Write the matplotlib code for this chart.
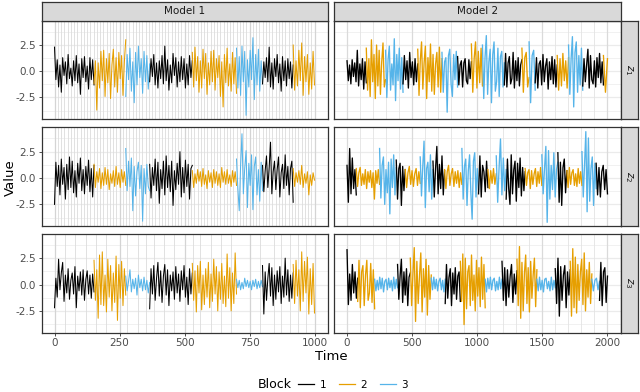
import numpy as np
import matplotlib.pyplot as plt
from matplotlib.lines import Line2D

block_colors = {1: "#000000", 2: "#E69F00", 3: "#56B4E9"}

# Model 1: block layout shared by z1, z2, z3
m1_bounds = [0, 152, 274, 366, 530, 700, 800, 918, 1000]
m1_blocks = [1, 2, 3, 1, 2, 3, 1, 2]

m1_z1 = [
    [2.3, -0.8, 1.1, -1.5, 0.6, -2.0, 1.3, -0.4, 0.9, -1.2, 1.6, -0.7, 0.3, -1.4, 1.0,
     -0.9, 1.5, -1.1, 0.7, -2.2, 1.2, -0.6, 1.4, -1.0, 0.5, -1.7, 1.3, -0.8, 1.1, -1.3],
    [-1.2, 1.0, -3.7, 0.8, -1.6, 1.9, -0.9, 2.0, -2.4, 1.2, -1.1, 1.7, -2.6, 0.6, 2.1,
     -1.5, 1.3, -2.0, 1.8, -0.7, 1.5, -2.3, 0.9, 3.0],
    [-2.4, 1.6, -0.8, 2.2, -1.9, 0.9, -3.0, 1.8, -1.3, 2.4, -0.6, 1.2, -2.1, 1.9, -1.0,
     1.5, -1.7, 0.7],
    [-1.0, 1.2, -0.5, 1.6, -1.3, 0.8, -1.6, 1.0, -0.7, 1.5, -1.2, 2.4, -0.9, 1.1, -1.8,
     0.6, -1.1, 1.7, -0.4, 1.3, -1.5, 0.9, -1.0, 1.4, -0.8, 1.2, -1.6, 0.7, -1.3, 1.5, -0.6, 1.0],
    [1.8, -1.5, 2.3, -0.9, 1.4, -2.0, 1.0, -1.6, 2.1, -0.7, 1.7, -2.2, 0.8, -1.3, 1.9,
     -1.0, 2.0, -1.8, 1.2, -0.6, 1.5, -2.4, 0.9, -3.4, 1.6, -1.1, 2.2, -1.4, 0.7, -1.9,
     1.8, -1.2, 1.3, -2.1],
    [2.2, -1.6, 1.4, -2.3, 2.4, -1.0, 1.9, -4.2, 1.1, -1.5, 2.0, -0.8, 3.2, -2.7, 1.6,
     -1.3, 2.1, -1.9, 1.0, -1.2],
    [-1.2, 0.9, -0.6, 1.3, -1.0, 2.3, -1.5, 0.8, -1.7, 1.2, -0.5, 1.6, -1.1, 0.7, -1.9,
     1.4, -0.9, 1.0, -1.4, 1.2, -0.7, 0.9, -1.6, 0.6],
    [2.5, -1.8, 1.0, -1.4, 2.0, -0.9, 2.7, -2.3, 1.4, -1.0, 1.6, -2.2, 0.8, -1.7, 1.9, -1.3],
]
m1_z2 = [
    [-2.5, 1.5, -0.8, 1.2, -1.6, 1.8, -0.6, 1.0, -2.0, 1.3, -1.1, 2.0, -0.9, 1.6, -1.4,
     0.7, -1.8, 1.4, -0.5, 1.9, -1.2, 0.8, -1.5, 1.1, -0.7, 1.7, -1.3, 0.9, -1.8, 1.2],
    [1.3, -0.9, 0.6, -0.4, 0.9, -1.0, 0.5, -0.7, 1.0, -0.6, 0.8, -1.1, 0.4, -0.5, 0.7,
     -0.8, 1.1, -0.6, 0.5, -0.9, 0.8, -0.4, 0.6, -0.7],
    [2.8, -1.2, 1.6, -0.8, 1.9, -3.1, 1.1, -1.7, 0.6, 1.5, -1.0, 1.2, -4.1, 0.9, -1.5,
     1.3, -0.8, -1.2],
    [1.3, -1.9, 1.0, -0.7, 1.8, -1.2, 1.5, -2.4, 0.8, -1.0, 1.6, -1.6, 2.1, -0.9, 1.2,
     -1.3, 1.6, -2.6, 0.7, -1.1, 1.4, -0.6, 2.5, -1.8, 1.0, -1.4, 1.7, -0.8, 1.3, -2.0, 0.9, 1.2],
    [0.7, -0.9, 0.4, -0.5, 0.8, -0.3, 0.6, -0.8, 0.9, -0.6, 0.3, -1.0, 0.7, -0.4, 0.5,
     -0.9, 0.8, -0.5, 0.6, -0.7, 0.4, -0.9, 1.0, -0.4, 0.6, -0.6, 0.8, -0.5, 0.3, -0.8,
     0.7, -0.4, 0.6, -0.7],
    [1.8, -1.0, -3.1, 1.2, 4.2, -1.5, 0.9, 2.6, -2.8, 1.4, -0.7, 2.2, -3.0, 1.1, 2.0,
     -1.6, 0.8, -2.2, 1.5, -1.2],
    [1.2, -1.3, 0.7, 2.1, -0.9, 1.0, 3.4, -1.5, 0.6, 1.6, -1.1, 0.8, 2.0, -1.8, 0.5,
     1.3, -1.0, 2.2, -0.7, 1.1, -1.6, 0.9, 1.6, -2.3],
    [0.9, -0.8, 0.5, -0.4, 0.7, -0.6, 1.2, -0.9, 0.4, -0.5, 0.6, -1.6, 0.3, -0.7, 0.5, -0.2],
]
m1_z3 = [
    [-2.2, 0.6, -1.2, 2.4, -0.5, 1.1, 2.1, -1.6, 0.9, -0.8, 1.5, -1.4, 0.4, 1.1, -0.9,
     1.7, -2.2, 0.8, -0.6, 1.2, -1.0, 1.4, -1.5, 0.5, 1.3, -0.9, 0.9, -1.3, 1.0, -0.7],
    [2.3, -1.5, 1.4, -3.2, 2.8, -1.9, 3.1, -2.0, 0.9, -2.6, 2.4, -1.2, 1.8, -2.5, 1.1,
     -1.7, 2.7, -3.4, 1.9, -1.3, 2.2, -2.0, 1.5, -1.0],
    [0.8, -0.6, 0.3, 1.4, -0.7, 0.5, -0.4, 0.6, -1.0, 0.9, -0.3, 0.5, -0.6, 0.7, -0.5,
     0.4, -0.8, 0.2],
    [-2.3, 1.5, -0.9, 1.8, -1.5, 0.6, 2.1, -1.1, 1.3, -1.7, 0.8, 1.9, -1.0, 1.4, -2.0,
     0.9, -0.6, 1.2, -1.4, 1.7, -0.8, 1.0, -1.6, 1.3, -0.5, 1.8, -1.2, 0.7, -1.9, 1.5, -0.9, 1.1],
    [2.0, -1.5, 1.3, -2.6, 1.8, -0.8, 2.2, -2.4, 0.9, -1.9, 1.5, -1.2, 2.1, -2.2, 1.0,
     -1.6, 2.4, -0.9, 1.7, -2.5, 1.2, -1.4, 2.0, -1.8, 0.8, -2.1, 2.9, -1.3, 1.6, -2.5,
     1.1, -1.8, 3.0, -0.9],
    [0.5, -0.3, 0.4, -0.5, 0.2, -0.4, 0.6, -0.2, 0.4, -0.3, 0.3, -0.5, 0.4, -0.2, 0.5,
     -0.4, 0.3, -0.3, 0.4, -0.2],
    [1.8, -2.8, 1.2, -1.5, 0.6, 2.0, -1.1, 1.6, -2.0, 0.9, -1.4, 1.3, -0.7, 1.7, -1.8,
     0.8, -1.2, 2.5, -1.0, 1.4, -1.6, 0.9, -1.3, 1.1],
    [1.9, -1.8, 2.3, -1.1, 1.4, -2.5, 3.1, -1.6, 2.2, -0.8, 2.6, -2.8, 1.5, -1.9, 2.0, -2.7],
]

# Model 2: each series has its own block layout
m2_z1_bounds = [0, 148, 296, 430, 543, 729, 849, 955, 1040, 1208, 1343, 1398, 1445,
                1614, 1701, 1810, 1969, 2000]
m2_z1_blocks = [1, 2, 3, 1, 2, 3, 1, 2, 3, 1, 2, 3, 1, 2, 3, 1, 2]
m2_z1 = [
    [1.0, -0.9, 0.6, -1.2, 1.1, -0.5, 0.8, -1.0, 2.0, -1.4, 0.7, -0.8, 1.2, -1.7, 0.9, -1.1],
    [2.2, -1.8, 1.2, -2.4, 3.0, -1.0, 1.6, -2.6, 2.5, -1.4, 2.0, -2.2, 0.9, 2.7, -1.5, -0.8],
    [2.0, -2.5, 1.1, 2.4, -1.8, 0.7, -1.3, 3.1, -2.8, 1.6, -0.9, 2.2, -1.7, 1.3, -2.0],
    [-1.2, 1.5, -0.8, 1.0, -1.6, 1.8, -0.6, 0.9, -1.3, 1.2, -1.0, 0.7],
    [2.1, -2.3, 1.0, 2.8, -1.7, 0.8, 2.4, -2.6, 1.3, -1.0, 2.6, -1.9, 1.6, -2.2, 0.7,
     1.8, -1.5, 2.3, -2.0, 1.2],
    [1.8, -2.0, 0.9, 1.3, -3.9, 1.5, 2.1, -1.2, -2.4, 1.6, -0.8, 1.9, -1.5],
    [1.4, -1.3, 0.6, 1.0, -1.5, 0.8, 1.2, -0.9, -1.2, 1.1, -0.7, 0.9],
    [2.6, -2.0, 1.2, 2.8, -1.6, 1.9, -1.1, 2.2, -1.4],
    [2.5, -2.6, 1.3, 3.4, -2.2, 0.9, 2.1, -3.0, 1.6, 2.8, -1.9, -1.0, 2.2, -2.4, 1.4,
     1.9, -1.5, 0.8],
    [-1.3, 1.7, -1.5, 0.8, 1.4, -1.2, -0.7, 1.8, -1.6, 1.0, -0.9, 1.3, -1.4, 0.6, 1.1],
    [2.2, -2.0, 1.3, 1.8, -1.5, -0.6],
    [2.8, -3.0, 1.5, 2.0, -1.8],
    [-1.1, 1.3, -1.6, 0.7, 1.0, -1.3, 1.6, -1.0, 0.5, 1.2, -1.7, 0.9, -0.8, 1.4, -1.2,
     1.1, -1.5, 0.6],
    [1.5, -1.8, 1.2, -1.4, 1.7, -0.9, 1.0, -1.6, 1.3],
    [2.5, -2.2, 1.2, 3.3, -3.4, 1.8, 2.8, -2.0, 1.5, -1.3, 2.2, -1.8],
    [-1.4, 1.2, -1.0, 0.6, 2.1, -1.6, 1.5, -0.8, -1.2, 1.0, -1.5, 1.3, -0.6, 1.7, -1.1,
     0.9, -1.3],
    [1.5, -2.0, 1.2],
]

m2_z2_bounds = [0, 71, 250, 378, 447, 562, 660, 749, 882, 1010, 1082, 1146, 1222, 1368,
                1496, 1619, 1688, 1804, 1913, 2000]
m2_z2_blocks = [1, 2, 3, 1, 2, 3, 1, 2, 3, 1, 2, 3, 1, 2, 3, 1, 2, 3, 1]
m2_z2 = [
    [1.2, -2.3, 2.8, -1.5, 1.9, -1.0, 0.8, -1.6],
    [0.9, -0.8, 0.5, 1.0, -0.7, 0.4, -0.6, 0.8, -1.0, 0.6, -0.4, 0.7, -0.9, 0.5, -2.0,
     0.7, -0.5, 0.8, -0.6],
    [2.8, -1.9, 1.2, 2.0, -2.5, 0.8, -1.4, 1.5, -3.4, 1.8, -0.9, 2.2, -1.6, 1.0],
    [1.7, -2.0, 0.9, 1.4, -2.6, 1.1, -1.2, 0.8],
    [0.8, -0.9, 0.5, 1.1, -0.6, 0.7, -0.8, 0.4, 0.9, -0.7, 0.6, -0.5],
    [2.0, -1.7, 1.1, 3.5, -2.8, 0.9, 1.5, -1.3, 2.2, -2.0, 0.8],
    [1.6, -1.8, 0.9, 3.0, -1.5, 1.3, -1.0, 2.1, -1.6, 0.7],
    [0.8, -1.0, 0.6, 1.2, -0.7, 0.4, 0.9, -0.8, 0.6, -0.5, 0.7, -0.9, 0.5, -0.6],
    [2.8, -2.0, 1.1, 1.8, -2.6, 0.7, 2.2, -1.4, -3.9, 1.6, 2.4, -1.8, 0.9, -1.1],
    [-1.5, 2.1, -1.8, 1.2, 0.6, -1.3, 1.6, -0.9],
    [0.8, -1.0, 0.7, -0.5, 0.9, -0.6, 0.4],
    [2.1, -2.3, 1.0, 3.7, -1.6, 1.9, -1.2, 0.8],
    [-2.0, 1.8, -1.0, -2.5, 2.2, -1.5, 0.8, 1.6, -2.2, 1.4, -0.9, 1.9, -1.7, 1.0, -1.2, 0.6],
    [0.9, -0.7, 0.5, 0.8, -1.0, 0.7, -0.6, 0.4, 0.9, -0.8, 0.6, -0.5, 1.0, -0.7],
    [2.2, -1.5, 0.9, 3.0, -4.2, 2.6, -2.0, 1.2, -1.1, 2.4, -1.8, 0.8, 1.5],
    [2.4, -2.3, 1.5, -2.6, 1.0, 1.8, -1.4, 0.7],
    [0.7, -0.9, 1.0, -0.6, 0.5, 0.8, -0.7, 0.4, -0.8, 0.9, -0.5, 0.6, -0.7],
    [2.5, -1.8, 1.2, 4.4, -3.2, 3.8, -2.2, 0.9, 2.0, -2.6, 1.4, -1.0],
    [1.4, -1.6, 1.0, -1.8, 0.6, 1.2, -1.1, 0.8, -1.5],
]

m2_z3_bounds = [0, 82, 212, 388, 486, 647, 754, 870, 1061, 1190, 1305, 1458, 1599, 1714,
                1880, 1939, 2000]
m2_z3_blocks = [1, 2, 3, 1, 2, 3, 1, 2, 3, 1, 2, 3, 1, 2, 3, 1]
m2_z3 = [
    [3.3, -1.9, 1.0, -1.5, 1.9, -0.8, 1.2, -1.3, 0.6],
    [-1.6, 2.3, -2.2, 1.2, 1.8, -2.0, 0.9, 2.3, -1.5, -0.8, 2.0, -1.7, 1.4, -2.3],
    [0.5, -0.6, 0.4, -0.5, 0.7, -0.4, 0.6, -0.7, 0.3, 0.5, -0.5, 0.6, -0.3, 0.4, -0.6,
     0.7, -0.4, 0.5, -0.3],
    [1.9, -1.4, 0.8, 2.4, -1.7, 1.2, -1.0, 1.5, -2.0, 0.7, 1.1],
    [2.5, -2.0, 1.0, 3.5, -3.5, 2.2, -1.8, 0.8, 3.0, -2.6, 1.5, -1.2, 2.4, -2.9, 1.8, -1.4, 0.9],
    [0.6, -0.5, 0.7, -0.4, 0.5, -0.6, 0.3, 0.6, -0.5, 0.4, -0.7, 0.5],
    [-1.8, 1.9, -1.3, 0.7, 1.5, -2.0, 1.1, -0.9, 1.6, -1.4, 0.8, 1.2, -1.6],
    [2.2, -1.6, 2.9, -3.8, 2.5, -2.3, 1.2, 1.8, -2.0, 2.8, -1.5, 0.9, -2.5, 2.3, -1.1,
     1.6, -2.1, 2.6, -1.4, 1.9, -2.2],
    [0.5, -0.7, 0.6, -0.4, 0.7, -0.5, 0.4, 0.6, -0.6, 0.3, -0.5, 0.7, -0.4, 0.5],
    [2.2, -1.5, 1.6, -2.0, 1.4, -1.2, 0.8, 1.9, -1.7, 1.0, -0.9, 1.3],
    [2.4, -2.0, 3.6, -3.2, 2.1, -2.5, 1.1, 2.8, -1.8, 1.6, -2.6, 2.2, -1.3, 0.9, 2.5, -2.1, 1.4],
    [0.5, -0.6, 0.7, -0.5, 0.4, -0.7, 0.5, 0.6, -0.4, 0.3, -0.6, 0.7, -0.5, 0.4, -0.3],
    [1.5, -1.8, 2.5, -3.0, 1.7, -1.5, 0.9, 1.8, -2.2, 1.2, -1.0, 1.4],
    [2.2, -3.0, 3.4, -2.2, 2.6, -2.7, 1.9, -1.5, 1.2, 2.4, -1.9, 3.0, -2.5, 1.4, -1.2,
     2.1, -1.8, 1.0],
    [0.5, -0.6, 0.4, 0.6, -0.5, 0.3],
    [-1.5, 2.1, -2.0, 1.2, 1.6, -1.7, 0.8],
]

models = ["Model 1", "Model 2"]
series_names = [r"$z_1$", r"$z_2$", r"$z_3$"]
panels = [
    [(m1_bounds, m1_blocks, m1_z1), (m2_z1_bounds, m2_z1_blocks, m2_z1)],
    [(m1_bounds, m1_blocks, m1_z2), (m2_z2_bounds, m2_z2_blocks, m2_z2)],
    [(m1_bounds, m1_blocks, m1_z3), (m2_z3_bounds, m2_z3_blocks, m2_z3)],
]
x_ticks = [[0, 250, 500, 750, 1000], [0, 500, 1000, 1500, 2000]]
x_lims = [(-50, 1050), (-100, 2100)]
y_ticks = [-2.5, 0.0, 2.5]

W, H = 640, 392
fig = plt.figure(figsize=(W / 100, H / 100), dpi=100)


def rect(x0, y0, x1, y1):
    return [x0 / W, 1 - y1 / H, (x1 - x0) / W, (y1 - y0) / H]


col_px = [(41.5, 327.5), (334, 620.5)]
row_px = [(20.5, 119), (127, 226), (233.5, 332.5)]
edge = "#333333"
tick_col = "#4D4D4D"

for r in range(3):
    for c in range(2):
        x0, x1 = col_px[c]
        y0, y1 = row_px[r]
        ax = fig.add_axes(rect(x0, y0, x1, y1))
        ax.set_xlim(*x_lims[c])
        ax.set_ylim(-4.55, 4.84)

        # grid
        for y in [-3.75, -1.25, 1.25, 3.75]:
            ax.axhline(y, color="#EBEBEB", lw=0.5, zorder=0)
        for y in y_ticks:
            ax.axhline(y, color="#EBEBEB", lw=0.9, zorder=0)
        if c == 0:
            if r < 2:
                extra = np.arange(0, 1001, 12.5)
            else:
                extra = [40, 80, 121, 160, 198, 280, 322, 351, 381, 423, 461,
                         531, 560, 602, 640, 679, 789, 843, 872, 904, 935, 968]
            for x in extra:
                ax.axvline(x, color="#DCDCDC", lw=0.6, zorder=0)
            for x in x_ticks[0]:
                ax.axvline(x, color="#D4D4D4", lw=0.9, zorder=0)
        else:
            for x in np.arange(0, 2001, 100):
                ax.axvline(x, color="#E3E3E3", lw=0.6, zorder=0)
            for x in x_ticks[1]:
                ax.axvline(x, color="#DADADA", lw=0.9, zorder=0)

        bounds, blocks, vals = panels[r][c]
        for k, seg in enumerate(vals):
            t = np.linspace(bounds[k], bounds[k + 1], len(seg))
            ax.plot(t, seg, color=block_colors[blocks[k]], lw=0.75 if c == 0 else 0.95,
                    zorder=2)

        for s in ax.spines.values():
            s.set_color(edge)
            s.set_linewidth(0.9)
        ax.set_xticks(x_ticks[c])
        ax.set_yticks(y_ticks)
        ax.tick_params(length=2.5, width=0.6, color=edge, labelsize=7.5,
                       labelcolor=tick_col, pad=1.5)
        if r == 2:
            ax.set_xticklabels([str(v) for v in x_ticks[c]])
        else:
            ax.tick_params(axis="x", length=0, labelbottom=False)
        if c == 0:
            ax.set_yticklabels(["-2.5", "0.0", "2.5"])
        else:
            ax.tick_params(axis="y", length=0, labelleft=False)

        # right strip
        if c == 1:
            sax = fig.add_axes(rect(620.5, y0, 638, y1))
            sax.set_facecolor("#D9D9D9")
            sax.set_xticks([])
            sax.set_yticks([])
            for s in sax.spines.values():
                s.set_color(edge)
                s.set_linewidth(0.9)
            sax.text(0.5, 0.5, series_names[r], rotation=-90, ha="center", va="center",
                     fontsize=7.5, color="#1A1A1A", transform=sax.transAxes)

# top strips
for c in range(2):
    x0, x1 = col_px[c]
    sax = fig.add_axes(rect(x0, 1.5, x1, 20.5))
    sax.set_facecolor("#D9D9D9")
    sax.set_xticks([])
    sax.set_yticks([])
    for s in sax.spines.values():
        s.set_color(edge)
        s.set_linewidth(0.9)
    sax.text(0.5, 0.5, models[c], ha="center", va="center", fontsize=7.5,
             color="#1A1A1A", transform=sax.transAxes)

fig.text(331 / W, 1 - 356 / H, "Time", ha="center", va="center", fontsize=9.5)
fig.text(10 / W, 1 - 178 / H, "Value", ha="center", va="center", rotation=90, fontsize=9.5)

handles = [Line2D([], [], color=block_colors[b], lw=0.9) for b in [1, 2, 3]]
fig.text(258 / W, 1 - 385 / H, "Block", ha="left", va="center", fontsize=9)
fig.legend(handles, ["1", "2", "3"], ncol=3, loc="center", frameon=False,
           bbox_to_anchor=(353 / W, 1 - 385 / H), fontsize=7.5, handlelength=1.6,
           handletextpad=0.5, columnspacing=1.2, borderpad=0)

fig.savefig("out.png", dpi=100)
